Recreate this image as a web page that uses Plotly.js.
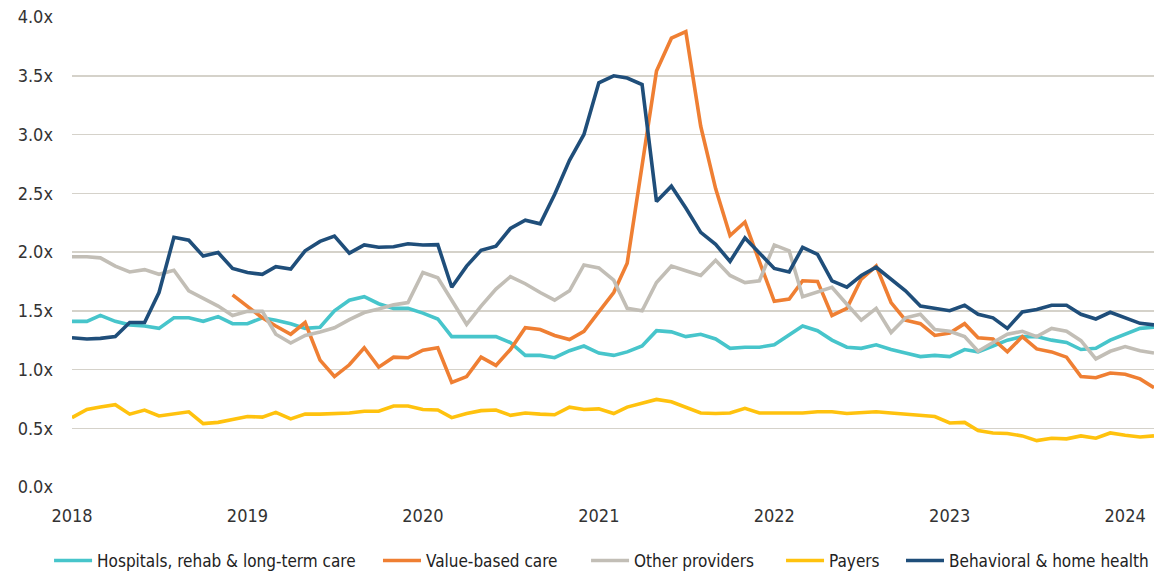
<!DOCTYPE html>
<html>
<head>
<meta charset="utf-8">
<script src="https://cdn.plot.ly/plotly-3.0.1.min.js"></script>
<style>html,body{margin:0;padding:0;background:#fff;}#chart{width:1154px;height:579px;}</style>
</head>
<body>
<div id="chart"></div>
<script>
const months = [
 '2018-01','2018-02','2018-03','2018-04','2018-05','2018-06','2018-07','2018-08','2018-09','2018-10','2018-11','2018-12',
 '2019-01','2019-02','2019-03','2019-04','2019-05','2019-06','2019-07','2019-08','2019-09','2019-10','2019-11','2019-12',
 '2020-01','2020-02','2020-03','2020-04','2020-05','2020-06','2020-07','2020-08','2020-09','2020-10','2020-11','2020-12',
 '2021-01','2021-02','2021-03','2021-04','2021-05','2021-06','2021-07','2021-08','2021-09','2021-10','2021-11','2021-12',
 '2022-01','2022-02','2022-03','2022-04','2022-05','2022-06','2022-07','2022-08','2022-09','2022-10','2022-11','2022-12',
 '2023-01','2023-02','2023-03','2023-04','2023-05','2023-06','2023-07','2023-08','2023-09','2023-10','2023-11','2023-12',
 '2024-01','2024-02','2024-03'
];
const hospitals = [1.41,1.41,1.46,1.41,1.38,1.37,1.35,1.44,1.44,1.41,1.45,1.39,1.39,1.44,1.42,1.39,1.35,1.36,1.50,1.59,
 1.62,1.56,1.52,1.52,1.48,1.43,1.28,1.28,1.28,1.28,1.23,1.12,1.12,1.10,1.16,1.20,1.14,1.12,1.15,1.20,
 1.33,1.32,1.28,1.30,1.26,1.18,1.19,1.19,1.21,1.29,1.37,1.33,1.25,1.19,1.18,1.21,1.17,1.14,1.11,1.12,
 1.11,1.17,1.15,1.20,1.25,1.28,1.28,1.25,1.23,1.17,1.18,1.25,1.30,1.35,1.36];
const valueBased = [null,null,null,null,null,null,null,null,null,null,null,1.635,1.54,1.44,1.37,1.30,1.40,1.08,0.94,1.04,
 1.185,1.02,1.105,1.10,1.165,1.185,0.89,0.94,1.105,1.035,1.17,1.355,1.34,1.29,1.255,1.325,1.49,1.655,1.905,2.72,
 3.54,3.82,3.875,3.07,2.54,2.14,2.255,1.92,1.58,1.60,1.755,1.75,1.46,1.52,1.77,1.88,1.57,1.42,1.39,1.29,
 1.31,1.39,1.27,1.26,1.15,1.28,1.175,1.15,1.105,0.94,0.93,0.97,0.96,0.92,0.845];
const otherProviders = [1.96,1.96,1.95,1.88,1.83,1.85,1.81,1.845,1.67,1.605,1.54,1.46,1.495,1.495,1.30,1.225,1.29,1.32,1.355,1.425,
 1.485,1.515,1.55,1.57,1.825,1.78,1.585,1.385,1.54,1.685,1.79,1.73,1.655,1.59,1.67,1.89,1.865,1.76,1.52,1.50,
 1.74,1.88,1.84,1.80,1.93,1.80,1.74,1.755,2.06,2.01,1.62,1.66,1.70,1.555,1.42,1.52,1.315,1.44,1.47,1.34,
 1.325,1.28,1.155,1.23,1.30,1.325,1.28,1.35,1.325,1.245,1.09,1.155,1.195,1.16,1.14];
const payers = [0.59,0.66,0.68,0.70,0.62,0.655,0.605,0.62,0.64,0.54,0.55,0.575,0.60,0.595,0.635,0.58,0.62,0.62,0.625,0.63,
 0.645,0.645,0.69,0.69,0.66,0.655,0.59,0.625,0.65,0.655,0.61,0.63,0.62,0.615,0.68,0.66,0.665,0.625,0.68,0.715,
 0.745,0.725,0.675,0.63,0.625,0.63,0.67,0.63,0.63,0.63,0.63,0.64,0.64,0.625,0.63,0.64,0.63,0.62,0.61,0.60,
 0.545,0.55,0.48,0.46,0.455,0.435,0.395,0.415,0.41,0.435,0.415,0.46,0.44,0.425,0.435];
const behavioral = [1.27,1.26,1.265,1.28,1.40,1.40,1.655,2.125,2.10,1.965,1.995,1.86,1.825,1.81,1.875,1.855,2.01,2.09,2.135,1.99,
 2.06,2.04,2.045,2.07,2.06,2.063,1.70,1.88,2.015,2.05,2.20,2.27,2.24,2.49,2.78,3.00,3.44,3.50,3.48,3.425,
 2.43,2.56,2.375,2.167,2.065,1.92,2.12,1.99,1.86,1.83,2.04,1.98,1.755,1.70,1.80,1.87,1.77,1.67,1.54,1.52,
 1.50,1.547,1.47,1.44,1.35,1.49,1.51,1.547,1.547,1.47,1.43,1.487,1.444,1.393,1.38];
const seriesNames = ['Hospitals, rehab & long-term care','Value-based care','Other providers','Payers','Behavioral & home health'];
const seriesData = [hospitals, valueBased, otherProviders, payers, behavioral];
const seriesColors = ['#47C5CB','#EF7F33','#C2BEB6','#FFC20E','#1F4E7A'];
const yearTicks = ['2018-01-01','2019-01-01','2020-01-01','2021-01-01','2022-01-01','2023-01-01','2024-01-01'];
const yearLabels = ['2018','2019','2020','2021','2022','2023','2024'];

const FONT = "'Liberation Sans Narrow', 'DejaVu Sans Condensed', 'Roboto', sans-serif";
const legendIds = ['legend','legend2','legend3','legend4','legend5'];
const legendX = [-0.0212, 0.2828, 0.4751, 0.6553, 1.0];
const legendAnchor = ['left','left','left','left','right'];

const traces = seriesNames.map((n, k) => ({
  type: 'scatter', mode: 'lines', name: n, legend: legendIds[k],
  x: months.map(m => m + '-01'), y: seriesData[k],
  line: {color: seriesColors[k], width: 3.6},
  connectgaps: false, hoverinfo: 'skip'
}));

const layout = {
  width: 1154, height: 579,
  margin: {l: 72, r: 0, t: 17, b: 88},
  paper_bgcolor: '#fff', plot_bgcolor: '#fff',
  font: {family: FONT, size: 18, color: '#333'},
  showlegend: true,
  xaxis: {type: 'date', range: ['2018-01-01', '2024-03-01'], showgrid: false, zeroline: false,
          showline: false, ticks: '', tickvals: yearTicks, ticktext: yearLabels,
          tickfont: {family: FONT, size: 18, color: '#333'}, ticklabelstandoff: 16},
  yaxis: {range: [0, 4], dtick: 0.5, tick0: 0, tickformat: '.1f', ticksuffix: 'x',
          showgrid: true, gridcolor: '#D5D2CA', gridwidth: 1.5, zeroline: false, showline: false,
          ticks: '', tickfont: {family: FONT, size: 18, color: '#333'}, ticklabelstandoff: 18}
};
legendIds.forEach((id, k) => {
  layout[id] = {orientation: 'h', x: legendX[k], xanchor: legendAnchor[k], y: -0.158, yanchor: 'middle',
                bgcolor: 'rgba(0,0,0,0)', font: {family: FONT, size: 17, color: '#222'}, itemwidth: 38};
});
Plotly.newPlot('chart', traces, layout, {staticPlot: true, displayModeBar: false});
</script>
</body>
</html>
